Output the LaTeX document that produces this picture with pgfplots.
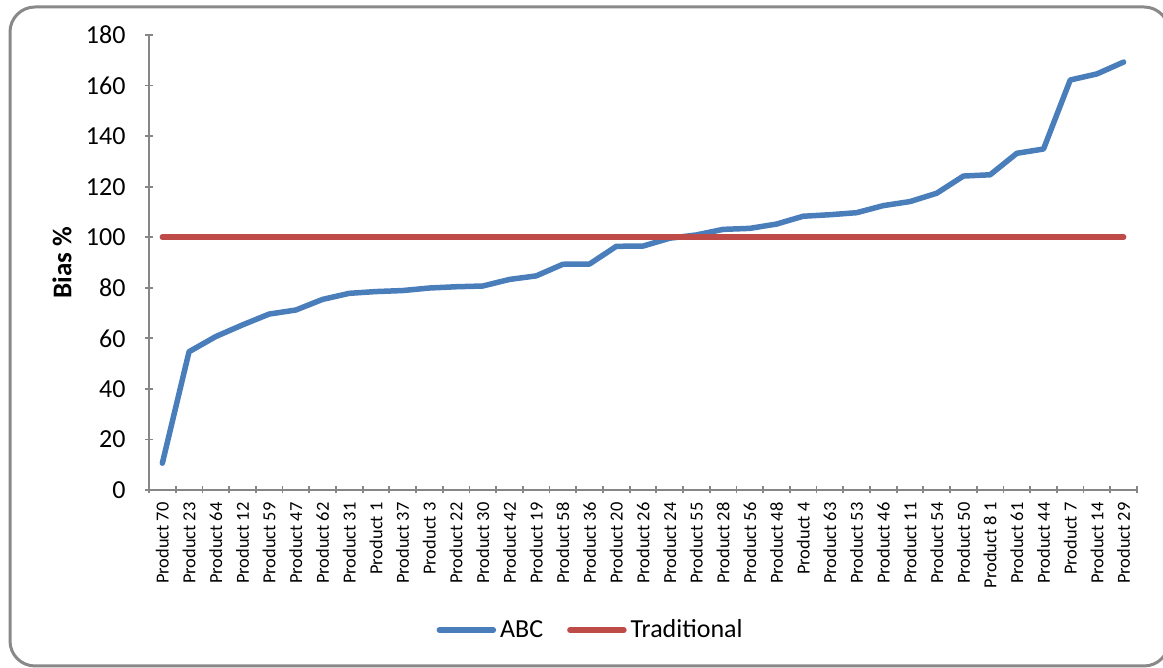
\documentclass[border=0pt]{standalone}
\usepackage{pgfplots}
\pgfplotsset{compat=1.18}
\usepackage{fontspec}
\setmainfont{Carlito}

\definecolor{abcblue}{HTML}{4A7EBB}
\definecolor{tradred}{HTML}{BE4B48}
\definecolor{axisgray}{HTML}{868686}
\definecolor{framegray}{HTML}{898989}

\begin{document}
\begin{tikzpicture}[x=1pt,y=1pt]
  % 1 px of the reference = 0.5pt
  \useasboundingbox (0,0) rectangle (581.5,334);
  \draw[framegray, line width=1.5pt, rounded corners=12.5pt]
    (5,1) rectangle (584.5,330.5);

  \begin{axis}[
    at={(74.5pt,89pt)}, anchor=south west,
    scale only axis,
    width=494pt, height=227.5pt,
    xmin=0.5, xmax=37.5,
    ymin=0, ymax=180,
    ytick={0,20,...,180},
    xtick={1,...,37},
    xticklabels={Product 70,Product 23,Product 64,Product 12,Product 59,
      Product 47,Product 62,Product 31,Product 1,Product 37,Product 3,
      Product 22,Product 30,Product 42,Product 19,Product 58,Product 36,
      Product 20,Product 26,Product 24,Product 55,Product 28,Product 56,
      Product 48,Product 4,Product 63,Product 53,Product 46,Product 11,
      Product 54,Product 50,Product 8 1,Product 61,Product 44,Product 7,
      Product 14,Product 29},
    minor xtick={0.5,1.5,...,37.5},
    major x tick style={draw=none},
    minor tick length=3.5pt,
    major tick length=3.5pt,
    tick align=outside,
    axis x line=bottom, axis y line=left,
    axis line style={axisgray, line width=0.9pt, -},
    tick style={axisgray, line width=0.9pt},
    x tick label style={rotate=90, anchor=east, font=\fontsize{9.2}{10}\selectfont, xshift=-1pt},
    y tick label style={font=\fontsize{13}{15}\selectfont, xshift=-6.5pt},
    /pgf/number format/assume math mode=true,
    ylabel={\textbf{Bias \%}},
    ylabel style={font=\fontsize{13.5}{15}\selectfont, at={(axis description cs:-0.088,0.5)}, anchor=center},
    legend columns=2,
    legend style={draw=none, fill=none, at={(0.448,-0.308)}, anchor=center,
      font=\fontsize{13}{15}\selectfont,
      /tikz/every even column/.append style={column sep=10pt}},
    legend image code/.code={
      \draw[#1, line cap=round] (0pt,0pt) -- (27pt,0pt);
    },
    clip=false,
  ]
    \addplot[abcblue, line width=2.75pt, line join=round, line cap=round] coordinates {
      (1,10.6) (2,54.7) (3,60.7) (4,65.3) (5,69.6) (6,71.2) (7,75.4)
      (8,77.8) (9,78.5) (10,78.9) (11,79.9) (12,80.4) (13,80.7) (14,83.3)
      (15,84.7) (16,89.3) (17,89.4) (18,96.4) (19,96.5) (20,99.6) (21,100.9)
      (22,103.1) (23,103.5) (24,105.2) (25,108.3) (26,108.9) (27,109.7)
      (28,112.5) (29,114.1) (30,117.4) (31,124.2) (32,124.7) (33,133.2)
      (34,134.9) (35,162.2) (36,164.6) (37,169.3)
    };
    \addplot[tradred, line width=2.75pt, line cap=round] coordinates {
      (1,100) (2,100) (3,100) (4,100) (5,100) (6,100) (7,100) (8,100)
      (9,100) (10,100) (11,100) (12,100) (13,100) (14,100) (15,100)
      (16,100) (17,100) (18,100) (19,100) (20,100) (21,100) (22,100)
      (23,100) (24,100) (25,100) (26,100) (27,100) (28,100) (29,100)
      (30,100) (31,100) (32,100) (33,100) (34,100) (35,100) (36,100)
      (37,100)
    };
    \legend{ABC,Traditional}
  \end{axis}
\end{tikzpicture}
\end{document}
